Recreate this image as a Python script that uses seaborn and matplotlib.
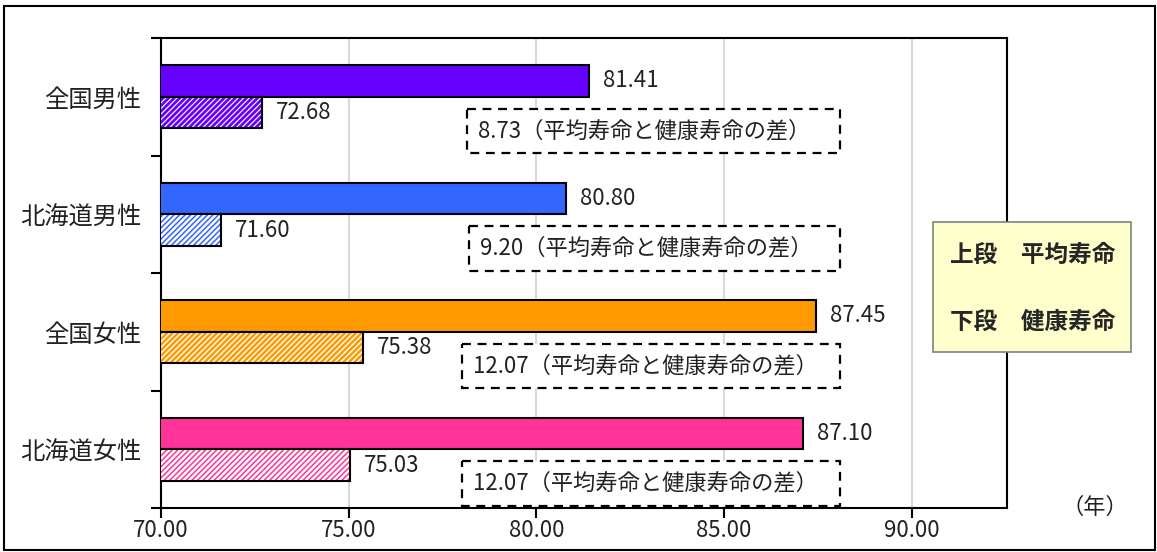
import matplotlib
matplotlib.use("Agg")
import matplotlib.pyplot as plt
from matplotlib.patches import Rectangle
import seaborn as sns
import pandas as pd

# ---- data ----
categories = ["全国男性", "北海道男性", "全国女性", "北海道女性"]
life_expectancy = [81.41, 80.80, 87.45, 87.10]      # 平均寿命 (上段)
healthy_life = [72.68, 71.60, 75.38, 75.03]         # 健康寿命 (下段)
bar_colors = ["#6600FF", "#3366FF", "#FF9900", "#FF3399"]
x_ticks = [70, 75, 80, 85, 90]
series_names = ["平均寿命", "健康寿命"]

sns.set_style("white")
plt.rcParams["font.family"] = ["Noto Sans CJK JP", "DejaVu Sans"]
plt.rcParams["hatch.linewidth"] = 1.6

df = pd.DataFrame({
    "cat": categories * 2,
    "kind": [series_names[0]] * 4 + [series_names[1]] * 4,
    "value": life_expectancy + healthy_life,
})

fig = plt.figure(figsize=(11.57, 5.52), dpi=100)
ax = fig.add_axes([161 / 1157, 1 - 508 / 552, (1007 - 161) / 1157, (508 - 38) / 552])

sns.barplot(data=df, y="cat", x="value", hue="kind", orient="h", order=categories,
            hue_order=series_names, width=0.54, dodge=True, errorbar=None,
            legend=False, ax=ax, edgecolor="black", linewidth=1.5,
            palette=["#888888", "#ffffff"], zorder=3)

hatch_lw = [2.0, 1.1, 1.8, 1.1]
top_bars = ax.containers[0]
low_bars = ax.containers[1]
for i, p in enumerate(top_bars):
    p.set_facecolor(bar_colors[i])
    p.set_edgecolor("black")
    p.set_linewidth(1.5)
for i, p in enumerate(low_bars):
    p.set_facecolor("white")
    p.set_edgecolor(bar_colors[i])
    p.set_hatch("//////")
    if hasattr(p, "set_hatch_linewidth"):
        p.set_hatch_linewidth(hatch_lw[i])
    p.set_linewidth(0)
    outline = Rectangle(p.get_xy(), p.get_width(), p.get_height(), fill=False,
                        edgecolor="black", linewidth=1.5, zorder=4)
    ax.add_patch(outline)

ax.set_xlim(70, 92.54)
ax.set_ylim(3.5, -0.5)
ax.set_xticks(x_ticks)
ax.set_xticklabels([f"{t:.2f}" for t in x_ticks], fontsize=16, color="#222222")
ax.set_yticks([-0.5, 0.5, 1.5, 2.5, 3.5])
ax.set_yticklabels([])
ax.set_yticks(range(len(categories)), minor=True)
ax.set_yticklabels(categories, minor=True, fontsize=17.5, color="#222222")
ax.tick_params(axis="y", which="major", direction="out", length=7, width=1.5, color="black", left=True)
ax.tick_params(axis="y", which="minor", length=0, pad=14)
ax.tick_params(axis="x", which="major", direction="out", length=7, width=1.5, color="black", bottom=True, pad=1)
ax.set_xlabel("")
ax.set_ylabel("")
ax.grid(False)
for t in x_ticks[1:]:
    ax.axvline(t, color="#D9D9D9", linewidth=1.5, zorder=1)
for s in ax.spines.values():
    s.set_visible(True)
    s.set_color("black")
    s.set_linewidth(1.5)

# value labels
for bars, vals in ((top_bars, life_expectancy), (low_bars, healthy_life)):
    for p, v in zip(bars, vals):
        ax.annotate(f"{v:.2f}", xy=(v, p.get_y() + p.get_height() / 2),
                    xytext=(10, 0), textcoords="offset points",
                    ha="left", va="center", fontsize=16, color="#222222", zorder=6)

# difference boxes
box_left = [78.15, 78.2, 78.02, 78.02]
box_right = 88.1
for i in range(len(categories)):
    diff = life_expectancy[i] - healthy_life[i]
    rect = Rectangle((box_left[i], i + 0.1), box_right - box_left[i], 0.38,
                     fill=True, facecolor="white", edgecolor="black",
                     linewidth=1.6, linestyle=(0, (4, 3)), zorder=5)
    ax.add_patch(rect)
    ax.text(box_left[i] + 0.3, i + 0.29, f"{diff:.2f}（平均寿命と健康寿命の差）",
            ha="left", va="center", fontsize=16, color="#222222", zorder=6)

# legend-like note box
fig.patches.append(Rectangle((933 / 1157, 1 - 352 / 552), 198 / 1157, 130 / 552,
                             transform=fig.transFigure, facecolor="#FFFFCC",
                             edgecolor="#808080", linewidth=1.2, zorder=5))
fig.text(950 / 1157, 1 - 255 / 552, "上段　平均寿命", fontsize=17, fontweight="bold",
         ha="left", va="center", zorder=6)
fig.text(950 / 1157, 1 - 322 / 552, "下段　健康寿命", fontsize=17, fontweight="bold",
         ha="left", va="center", zorder=6)

fig.text(1095 / 1157, 1 - 507 / 552, "（年）", fontsize=16, ha="center", va="center", color="#222222")

# outer border
fig.patches.append(Rectangle((4 / 1157, 1 - 550 / 552), 1151 / 1157, 544 / 552,
                             transform=fig.transFigure, fill=False,
                             edgecolor="black", linewidth=1.5, zorder=0))

fig.savefig("out.png", dpi=100)
